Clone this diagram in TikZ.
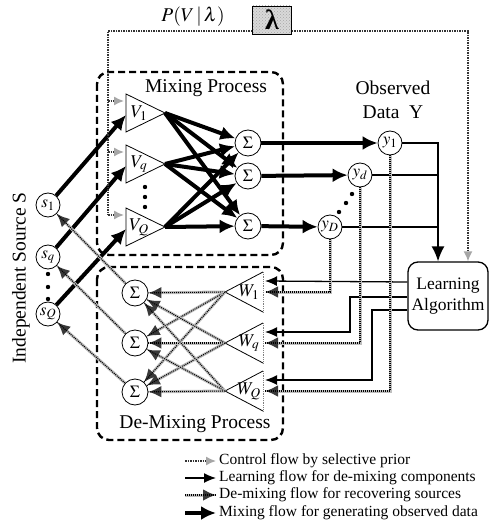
\documentclass[tikz,border=0pt]{standalone}
\usepackage{mathptmx}
\usepackage{fontspec}
\setmainfont{Liberation Serif}
\usepackage{tikz}
\usetikzlibrary{arrows.meta,calc,patterns,positioning}
\tikzstyle{mix} = [draw, line width=4pt, -{Latex[length=15pt,width=14pt]}]
\tikzstyle{learn} = [draw, line width=1.3pt, -{Latex[length=12pt,width=10pt]}]
\tikzstyle{ctrl} = [draw=black!80, line width=1.5pt, densely dotted,
  -{Latex[length=10pt,width=9pt,color=gray!70]}]
\tikzstyle{demix} = [draw=gray!50, line width=3pt,
  -{Latex[length=13pt,width=12pt,color=gray!45!black]},
  postaction={draw=black, line width=1.1pt, dash pattern=on 1pt off 1pt, -}]

\begin{document}
\begin{tikzpicture}[x=1pt, y=-1pt,
    sumnode/.style={draw, circle, minimum size=26pt, inner sep=0pt,
      fill=white, line width=0.8pt, font=\fontsize{17}{17}\selectfont},
    srcnode/.style={draw, circle, minimum size=24pt, inner sep=0pt,
      fill=white, line width=0.8pt, font=\fontsize{17}{17}\selectfont},
    tri/.style={line width=0.8pt},
    trilbl/.style={font=\fontsize{18}{18}\selectfont, inner sep=0pt},
    procbox/.style={draw, line width=2.4pt, dash pattern=on 7pt off 4pt,
      rounded corners=12pt},
    lbl/.style={font=\fontsize{19.5}{24}\selectfont, align=center},
    leg/.style={font=\fontsize{15.5}{18}\selectfont, anchor=west, inner sep=0pt}]
\useasboundingbox (0,0) rectangle (493,526);

%% Process boxes
\draw[procbox] (97,72) rectangle (283,255);
\draw[procbox] (97,267) rectangle (283,440);
\node[lbl] (mixlbl) at (206,88) {Mixing Process};
\node[lbl] (demixlbl) at (195,424) {De-Mixing Process};

%% Prior
\node[draw, minimum width=39pt, minimum height=28pt, preaction={fill=gray!30},
  pattern=crosshatch dots, pattern color=gray!70,
  font=\fontsize{28}{28}\selectfont\bfseries] (lam) at (272,20) {λ};
\node[lbl] (prior) at (193,17) {$P(V\,|\,\lambda)$};

%% Sources
\node[srcnode] (s1) at (48,205) {$s_1$};
\node[srcnode] (sq) at (48,257) {$s_q$};
\node[srcnode] (sQ) at (48,314) {$s_Q$};
\foreach \y in {274,287,299} \fill (48,\y) circle (2.2pt);
\node[lbl, rotate=90] (srclbl) at (21,278) {Independent Source S};

%% Mixing components
\foreach \y/\n/\t in {113/V1/1, 164/Vq/q, 227/VQ/Q} {
  \draw[tri] (126,{\y-19}) -- (165,\y) -- (126,{\y+19}) -- cycle;
  \coordinate (\n) at (165,\y);
  \coordinate (\n-in) at (126,{\y+2});
  \coordinate (\n-c) at (124,{\y-12});
  \node[trilbl] (\n-t) at (139,\y) {$V_{\t}$};
}
\foreach \y in {187,197,207} \fill (145,\y) circle (2.2pt);

\node[sumnode] (m1) at (248,143) {$\Sigma$};
\node[sumnode] (m2) at (248,176) {$\Sigma$};
\node[sumnode] (m3) at (248,226) {$\Sigma$};

%% Observed data
\node[srcnode] (y1) at (390,143) {$y_1$};
\node[srcnode] (yd) at (360,175) {$y_d$};
\node[srcnode] (yD) at (330,227) {$y_D$};
\foreach \p in {(352,194),(346,203),(339,212)} \fill \p circle (2.2pt);
\node[lbl] (obslbl) at (393,100) {Observed\\Data\ \ Y};

%% De-mixing components
\node[sumnode] (d1) at (135,293) {$\Sigma$};
\node[sumnode] (d2) at (135,343) {$\Sigma$};
\node[sumnode] (d3) at (135,392) {$\Sigma$};
\foreach \y/\n/\t in {292/W1/1, 343/Wq/q, 391/WQ/Q} {
  \draw[tri] (263,{\y-20}) -- (225,\y) -- (263,{\y+20});
  \draw[tri, gray, densely dotted] (263,{\y-20}) -- (263,{\y+20});
  \coordinate (\n) at (225,\y);
  \coordinate (\n-l) at (265,{\y-11});
  \coordinate (\n-d) at (265,\y);
  \node[trilbl] (\n-t) at (249,\y) {$W_{\t}$};
}

\node[draw, rounded corners=10pt, line width=1.3pt, minimum width=80pt,
  minimum height=68pt, align=center, font=\fontsize{17.5}{21}\selectfont]
  (la) at (448,296) {Learning\\Algorithm};

%% Mixing flow
\draw[mix] (s1) -- (V1-in);
\draw[mix] (sq) -- (Vq-in);
\draw[mix] (sQ) -- (VQ-in);
\foreach \v in {V1,Vq,VQ}
  \foreach \m in {m1,m2,m3}
    \draw[mix] (\v) -- (\m);
\draw[mix] (m1) -- (y1);
\draw[mix] (m2) -- (yd);
\draw[mix] (m3) -- (yD);

%% Learning flow
\coordinate (join) at (438,143);
\draw[line width=1.3pt] (yd) -- (yd -| join);
\draw[line width=1.3pt] (yD) -- (yD -| join);
\draw[learn] ($(la.west)+(0,-14)$) -- (W1-l);
\draw[learn] ($(la.west)+(0,1)$) -| ([xshift=85pt]Wq-l) -- (Wq-l);
\draw[learn] ($(la.west)+(0,14)$) -| ([xshift=107pt]WQ-l) -- (WQ-l);
\draw[learn, line width=1.6pt, -{Latex[length=15pt,width=13pt]}] (y1) -- (join) -- (la.north -| join);

%% De-mixing flow
\draw[demix] (yD) |- (W1-d);
\draw[demix] (yd) |- (Wq-d);
\draw[demix] (y1) |- (WQ-d);
\foreach \w in {W1,Wq,WQ}
  \foreach \d in {d1,d2,d3}
    \draw[demix] (\w) -- (\d);
\draw[demix] (d1) -- (s1);
\draw[demix] (d2) -- (sq);
\draw[demix] (d3) -- (sQ);

%% Control flow
\coordinate (cl) at (108,31);
\coordinate (cr) at (468,31);
\draw[ctrl, -] (lam.west |- cl) -- (cl) -- (cl |- VQ-c);
\foreach \v in {V1,Vq,VQ} \draw[ctrl] (cl |- \v-c) -- (\v-c);
\draw[ctrl] (lam.east |- cr) -- (cr) -- (la.north -| cr);

%% Legend
\node[leg] (k1) at (219,461) {Control flow by selective prior};
\node[leg] (k2) at (219,478) {Learning flow for de-mixing components};
\node[leg] (k3) at (219,495) {De-mixing flow for recovering sources};
\node[leg] (k4) at (219,513) {Mixing flow for generating observed data};
\draw[ctrl] ([xshift=-34pt]k1.west) -- ([xshift=-3pt]k1.west);
\draw[learn] ([xshift=-34pt]k2.west) -- ([xshift=-3pt]k2.west);
\draw[demix] ([xshift=-34pt]k3.west) -- ([xshift=-3pt]k3.west);
\draw[mix] ([xshift=-34pt]k4.west) -- ([xshift=-3pt]k4.west);
\end{tikzpicture}
\end{document}
